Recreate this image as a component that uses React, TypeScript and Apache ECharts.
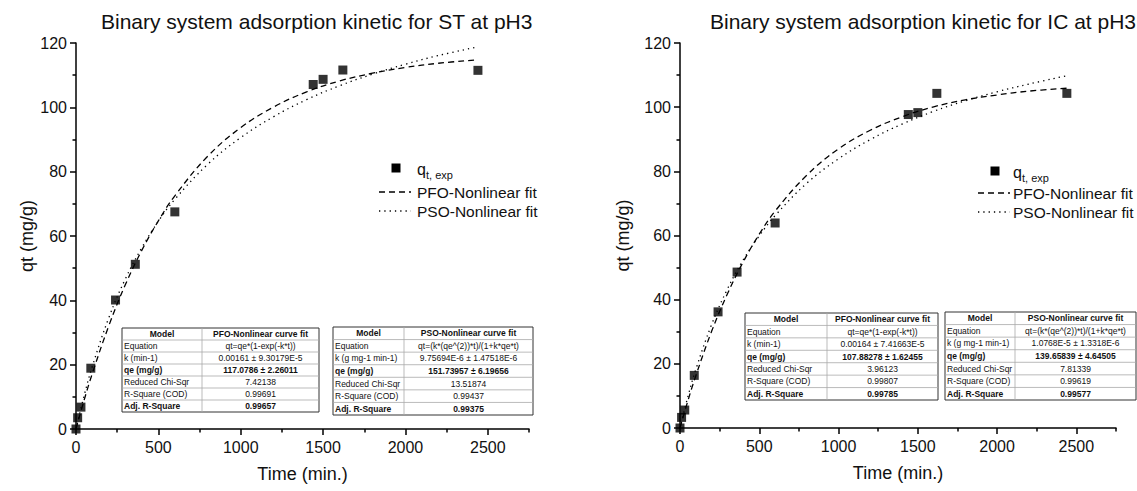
import React, { useEffect, useRef } from "react";
import * as echarts from "echarts";

const titles = [
  "Binary system adsorption kinetic for ST at pH3",
  "Binary system adsorption kinetic for IC at pH3",
];
const xAxisName = "Time (min.)";
const yAxisName = "qt (mg/g)";
const legendNames = ["q", "t, exp", "PFO-Nonlinear fit", "PSO-Nonlinear fit"];

const expTime = [0, 10, 30, 90, 240, 360, 600, 1440, 1500, 1620, 2440];
const qExpST = [0, 3.5, 6.8, 18.9, 40.1, 51.2, 67.5, 107.1, 108.7, 111.6, 111.5];
const qExpIC = [0, 3.3, 5.6, 16.4, 36.2, 48.6, 63.9, 97.7, 98.3, 104.3, 104.3];

const fitTime = [0, 50, 100, 200, 300, 400, 500, 600, 800, 1000, 1200, 1400, 1600, 1800, 2000, 2200, 2440];
const pfoST = [0, 9.1, 17.4, 32.2, 44.9, 55.6, 64.7, 72.5, 84.8, 93.7, 100.1, 104.8, 108.2, 110.6, 112.4, 113.7, 114.8];
const psoST = [0, 10.5, 19.6, 34.7, 46.7, 56.4, 64.6, 71.4, 82.3, 90.6, 97.1, 102.4, 106.7, 110.3, 113.4, 116.1, 118.8];
const pfoIC = [0, 8.5, 16.3, 30.2, 41.9, 51.9, 60.4, 67.6, 78.8, 87.0, 92.8, 97.0, 100.1, 102.3, 103.8, 105.0, 105.9];
const psoIC = [0, 9.8, 18.3, 32.3, 43.4, 52.5, 59.9, 66.2, 76.3, 83.9, 89.9, 94.7, 98.7, 102.0, 104.8, 107.2, 109.8];

const xMajorTicks = [0, 500, 1000, 1500, 2000, 2500];
const xMinorTicks = [250, 750, 1250, 1750, 2250, 2750];
const xMax = 2750;
const yMax = 120;
const yInterval = 20;

const tableLabelsPFO = ["Model", "Equation", "k (min-1)", "qe (mg/g)", "Reduced Chi-Sqr", "R-Square (COD)", "Adj. R-Square"];
const tableLabelsPSO = ["Model", "Equation", "k (g mg-1 min-1)", "qe (mg/g)", "Reduced Chi-Sqr", "R-Square (COD)", "Adj. R-Square"];
const tableST_PFO = ["PFO-Nonlinear curve fit", "qt=qe*(1-exp(-k*t))", "0.00161 \u00b1 9.30179E-5", "117.0786 \u00b1 2.26011", "7.42138", "0.99691", "0.99657"];
const tableST_PSO = ["PSO-Nonlinear curve fit", "qt=(k*(qe^(2))*t)/(1+k*qe*t)", "9.75694E-6 \u00b1 1.47518E-6", "151.73957 \u00b1 6.19656", "13.51874", "0.99437", "0.99375"];
const tableIC_PFO = ["PFO-Nonlinear curve fit", "qt=qe*(1-exp(-k*t))", "0.00164 \u00b1 7.41663E-5", "107.88278 \u00b1 1.62455", "3.96123", "0.99807", "0.99785"];
const tableIC_PSO = ["PSO-Nonlinear curve fit", "qt=(k*(qe^(2))*t)/(1+k*qe*t)", "1.0768E-5 \u00b1 1.3318E-6", "139.65839 \u00b1 4.64505", "7.81339", "0.99619", "0.99577"];
const boldRows = [0, 3, 6];

const FONT = "Arial, 'Liberation Sans', Helvetica, sans-serif";

function pairs(xs: number[], ys: number[]) {
  return xs.map((x, i) => [x, ys[i]]);
}

function buildTable(x: number, y: number, w: number, h: number, c1: number, col1: string[], col2: string[]) {
  const rows = col1.length;
  const rh = h / rows;
  const els: any[] = [];
  els.push({ type: "rect", z: 20, shape: { x, y, width: w, height: h }, style: { fill: "#fff", stroke: "#333", lineWidth: 1 } });
  for (let i = 1; i < rows; i++) {
    els.push({ type: "line", z: 21, shape: { x1: x, y1: y + i * rh, x2: x + w, y2: y + i * rh }, style: { stroke: "#aaa", lineWidth: 0.8 } });
  }
  els.push({ type: "line", z: 21, shape: { x1: x + c1, y1: y, x2: x + c1, y2: y + h }, style: { stroke: "#aaa", lineWidth: 0.8 } });
  for (let i = 0; i < rows; i++) {
    const cy = y + (i + 0.5) * rh;
    const bold = boldRows.includes(i);
    els.push({
      type: "text", z: 22, x: i === 0 ? x + c1 / 2 : x + 2, y: cy,
      style: { text: col1[i], fontSize: 8.5, fontFamily: FONT, fontWeight: bold ? "bold" : "normal", fill: "#111", align: i === 0 ? "center" : "left", verticalAlign: "middle" },
    });
    els.push({
      type: "text", z: 22, x: x + c1 + (w - c1) / 2, y: cy,
      style: { text: col2[i], fontSize: 8.5, fontFamily: FONT, fontWeight: bold ? "bold" : "normal", fill: "#111", align: "center", verticalAlign: "middle" },
    });
  }
  return els;
}

function buildLegend(sqX: number, sqY: number, textX: number, lineX1: number, lineX2: number, y1: number, y2: number) {
  const ts = { fontFamily: FONT, fill: "#111", verticalAlign: "middle" };
  return [
    { type: "rect", z: 20, shape: { x: sqX - 4.5, y: sqY - 4.5, width: 9, height: 9 }, style: { fill: "#000" } },
    { type: "text", z: 20, x: textX, y: sqY + 1, style: { ...ts, text: legendNames[0], fontSize: 16, align: "left" } },
    { type: "text", z: 20, x: textX + 9, y: sqY + 7, style: { ...ts, text: legendNames[1], fontSize: 11, align: "left" } },
    { type: "line", z: 20, shape: { x1: lineX1, y1: y1, x2: lineX2, y2: y1 }, style: { stroke: "#000", lineWidth: 1.3, lineDash: [6, 4] } },
    { type: "text", z: 20, x: textX, y: y1, style: { ...ts, text: legendNames[2], fontSize: 15.5, align: "left" } },
    { type: "line", z: 20, shape: { x1: lineX1, y1: y2, x2: lineX2, y2: y2 }, style: { stroke: "#000", lineWidth: 1.3, lineDash: [1.3, 4] } },
    { type: "text", z: 20, x: textX, y: y2, style: { ...ts, text: legendNames[3], fontSize: 15.5, align: "left" } },
  ];
}

function xAxes(gridIndex: number) {
  return [
    {
      type: "value", gridIndex, position: "bottom", min: 0, max: xMax,
      name: xAxisName, nameLocation: "middle", nameGap: 36,
      nameTextStyle: { fontSize: 18, fontFamily: FONT, color: "#111" },
      axisLine: { show: true, onZero: false, lineStyle: { color: "#000", width: 1.5 } },
      axisTick: { show: true, length: 6, customValues: xMajorTicks, lineStyle: { color: "#000", width: 1.5 } },
      axisLabel: { show: true, customValues: xMajorTicks, formatter: (v: number) => String(v), fontSize: 16, fontFamily: FONT, color: "#111", margin: 10 },
      splitLine: { show: false },
    },
    {
      type: "value", gridIndex, position: "bottom", min: 0, max: xMax,
      axisLine: { show: false, onZero: false },
      axisTick: { show: true, length: 3.5, customValues: xMinorTicks, lineStyle: { color: "#000", width: 1.5 } },
      axisLabel: { show: false },
      splitLine: { show: false },
    },
  ];
}

function yAxis(gridIndex: number) {
  return {
    type: "value", gridIndex, min: 0, max: yMax, interval: yInterval,
    name: yAxisName, nameLocation: "middle", nameGap: gridIndex === 0 ? 38 : 48,
    nameTextStyle: { fontSize: 18, fontFamily: FONT, color: "#111" },
    axisLine: { show: true, onZero: false, lineStyle: { color: "#000", width: 1.5 } },
    axisTick: { show: true, length: 6, lineStyle: { color: "#000", width: 1.5 } },
    minorTick: { show: true, splitNumber: 2, length: 3.5, lineStyle: { color: "#000", width: 1.5 } },
    axisLabel: { fontSize: 16, fontFamily: FONT, color: "#111", margin: 9 },
    splitLine: { show: false },
  };
}

function seriesFor(idx: number, exp: number[], pfo: number[], pso: number[]) {
  const xi = idx * 2;
  return [
    {
      type: "line", name: "PFO", xAxisIndex: xi, yAxisIndex: idx, data: pairs(fitTime, pfo),
      showSymbol: false, smooth: 0.4, lineStyle: { color: "#000", width: 1.3, type: [6, 4] }, z: 3,
    },
    {
      type: "line", name: "PSO", xAxisIndex: xi, yAxisIndex: idx, data: pairs(fitTime, pso),
      showSymbol: false, smooth: 0.4, lineStyle: { color: "#000", width: 1.3, type: [1.3, 4] }, z: 3,
    },
    {
      type: "scatter", name: "exp", xAxisIndex: xi, yAxisIndex: idx, data: pairs(expTime, exp),
      symbol: "rect", symbolSize: 9, itemStyle: { color: "#000" }, z: 5,
    },
  ];
}

export default function App() {
  const ref = useRef<HTMLDivElement>(null);
  useEffect(() => {
    if (!ref.current) return;
    const chart = echarts.init(ref.current, null, { renderer: "svg" });
    const option: any = {
      animation: false,
      backgroundColor: "#fff",
      title: [
        { text: titles[0], left: 96, top: 6, textStyle: { fontSize: 21, fontWeight: "normal", fontFamily: FONT, color: "#111" } },
        { text: titles[1], left: 705, top: 6, textStyle: { fontSize: 21, fontWeight: "normal", fontFamily: FONT, color: "#111" } },
      ],
      grid: [
        { left: 76, top: 43, width: 453, height: 386 },
        { left: 680, top: 43, width: 436, height: 385 },
      ],
      xAxis: [...xAxes(0), ...xAxes(1)],
      yAxis: [yAxis(0), yAxis(1)],
      series: [...seriesFor(0, qExpST, pfoST, psoST), ...seriesFor(1, qExpIC, pfoIC, psoIC)],
      graphic: [
        ...buildLegend(396, 168, 417, 379, 411, 192, 211),
        ...buildLegend(995, 171, 1013, 978, 1010, 193, 212),
        ...buildTable(122, 328, 197, 84, 80, tableLabelsPFO, tableST_PFO),
        ...buildTable(333, 327, 200, 88, 71, tableLabelsPSO, tableST_PSO),
        ...buildTable(745, 313, 193, 87, 82, tableLabelsPFO, tableIC_PFO),
        ...buildTable(945, 312, 191, 88, 70, tableLabelsPSO, tableIC_PSO),
      ],
    };
    chart.setOption(option);
    return () => chart.dispose();
  }, []);
  return <div ref={ref} style={{ position: "absolute", left: 0, top: 0, width: 1137, height: 491 }} />;
}
